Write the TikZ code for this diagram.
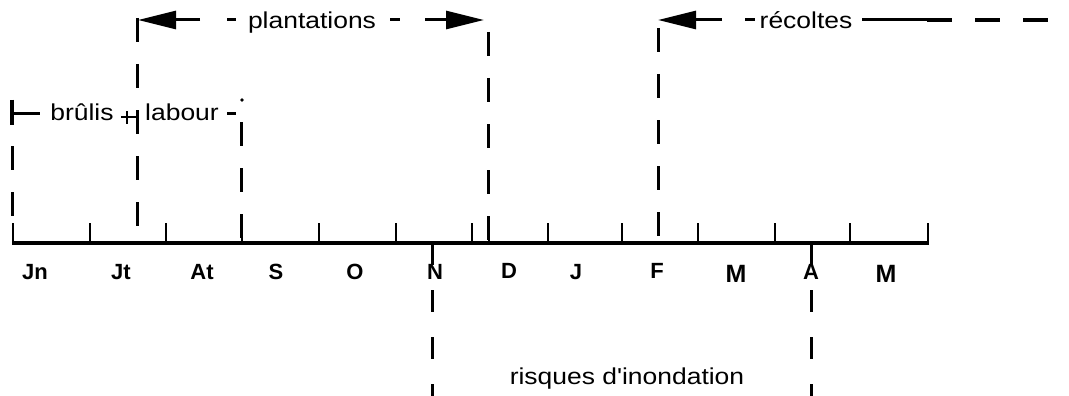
\documentclass[tikz,border=0pt]{standalone}
\usepackage{fontspec}
\setmainfont{Liberation Sans}
\newfontfamily\labfont[FakeStretch=1.15]{Liberation Sans}
\newfontfamily\monfont{Liberation Sans}
\usetikzlibrary{arrows.meta}
\begin{document}
\begin{tikzpicture}[x=1pt,y=-1pt,
  axisline/.style={line width=4.5pt},
  tickmark/.style={line width=2.5pt},
  dline/.style={line width=3pt, dash pattern=on 24pt off 22pt},
  hline/.style={line width=3pt},
  arr/.style={-{Triangle[length=38pt,width=18pt]}},
  lab/.style={font=\labfont\fontsize{23}{26}\selectfont, inner sep=0pt, anchor=base},
  mon/.style={font=\monfont\bfseries\fontsize{22}{25}\selectfont, inner sep=0pt, anchor=base},
  monbig/.style={font=\monfont\bfseries\fontsize{25}{28}\selectfont, inner sep=0pt, anchor=base}]
\useasboundingbox (0,0) rectangle (1069,396);

% axis
\coordinate (ax0) at (12,243);
\coordinate (ax1) at (929,243);
\draw[axisline] (ax0) -- (ax1);
\foreach \x in {13,90,166,242,319,396,472,489,548,622,698,775,850,928}
  \draw[tickmark] (\x,223) -- (\x,243);

% month labels
\node[mon] (jn) at (35,279) {Jn};
\node[mon] (jt) at (121,279) {Jt};
\node[mon] (at) at (202,279) {At};
\node[mon] (se) at (276,279) {S};
\node[mon] (oc) at (355,279) {O};
\node[mon] (no) at (435,279) {N};
\node[mon] (de) at (509,278) {D};
\node[mon] (ja) at (576,279) {J};
\node[mon] (fe) at (657,278) {F};
\node[monbig] (ma) at (736,282) {M};
\node[mon] (av) at (811,279) {A};
\node[monbig] (mi) at (886,282) {M};

% vertical dashed lines
\coordinate (v1a) at (12,100);  \coordinate (v1b) at (12,222);
\coordinate (v2a) at (137,18);  \coordinate (v2b) at (137,234);
\coordinate (v3a) at (241,122); \coordinate (v3b) at (241,243);
\coordinate (v4a) at (488,32);  \coordinate (v4b) at (488,243);
\coordinate (v5a) at (658,28);  \coordinate (v5b) at (658,243);
\coordinate (v6a) at (432,243); \coordinate (v6b) at (432,396);
\coordinate (v7a) at (811,243); \coordinate (v7b) at (811,396);
\draw[dline] (v1a) -- (v1b);
\draw[line width=3.5pt] (v1a) -- (12,125);
\draw[dline] (v2a) -- (v2b);
\draw[dline] (v3a) -- (v3b);
\draw[dline] (v4a) -- (v4b);
\draw[dline] (v5a) -- (v5b);
\draw[line width=3pt, dash pattern=on 22pt off 25pt] (v6a) -- (v6b);
\draw[line width=3pt, dash pattern=on 22pt off 25pt] (v7a) -- (v7b);

% plantations
\node[lab] (plant) at (312,29) {plantations};
\coordinate (p1) at (200,20); \coordinate (p1t) at (138,20);
\coordinate (p2) at (425,20); \coordinate (p2t) at (484,20);
\draw[hline,arr] (p1) -- (p1t);
\draw[hline] (227,20) -- (236,20);
\draw[hline] (390,20) -- (400,20);
\draw[hline,arr] (p2) -- (p2t);

% recoltes
\node[lab] (rec) at (806,29) {récoltes};
\coordinate (r1) at (722,20); \coordinate (r1t) at (658,20);
\draw[hline,arr] (r1) -- (r1t);
\draw[hline] (745,20) -- (755,20);
\coordinate (r2) at (862,20); \coordinate (r3) at (927,20); \coordinate (r4) at (1049,20);
\draw[hline] (r2) -- (r3);
\draw[line width=3.5pt, dash pattern=on 25pt off 23pt] (r3) -- (r4);

% brulis + labour
\node[lab] (bru) at (82,121) {brûlis};
\node[lab] (lab) at (182,121) {labour};
\draw[hline] (12,113) -- (40,113);
\draw[line width=2pt] (121,117) -- (137,117);
\draw[line width=2pt] (127,111) -- (127,124);
\draw[hline] (227,113) -- (236,113);
\fill (242,100) circle (1.8);

% risques
\node[lab] (ris) at (627,384) {risques d'inondation};
\end{tikzpicture}
\end{document}
